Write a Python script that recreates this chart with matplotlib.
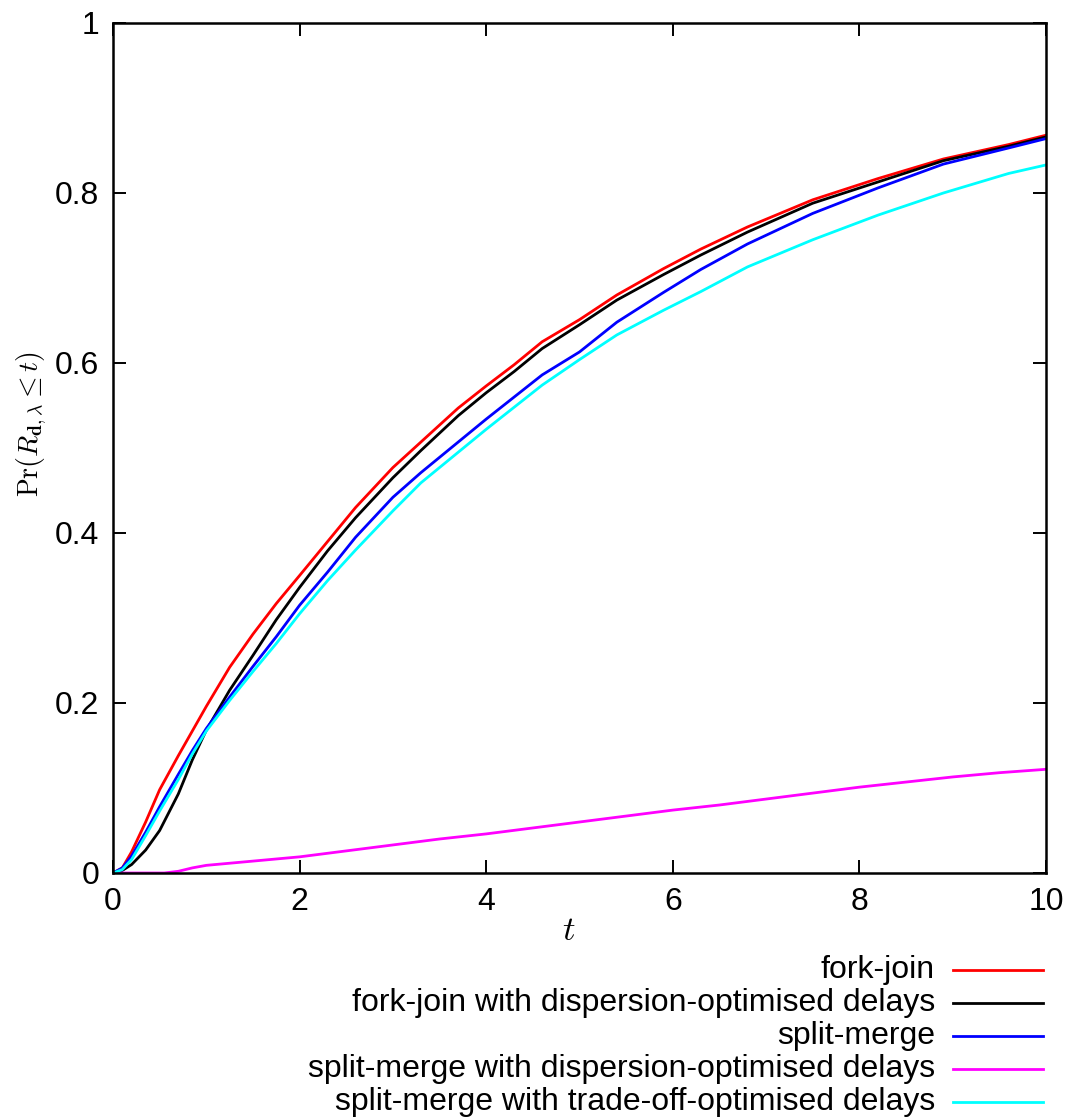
import matplotlib
matplotlib.use("Agg")
import matplotlib.pyplot as plt
from matplotlib.lines import Line2D

plt.rcParams["font.family"] = ["Liberation Sans", "DejaVu Sans"]
plt.rcParams["mathtext.fontset"] = "cm"

# Response-time CDFs, Pr(R <= t)
t = [0, 0.1, 0.2, 0.35, 0.5, 0.7, 0.85, 1.0, 1.25, 1.5, 1.75, 2.0, 2.3, 2.6,
     3.0, 3.3, 3.7, 4.0, 4.3, 4.6, 5.0, 5.4, 5.9, 6.3, 6.8, 7.5, 8.2, 8.9, 9.6, 10]

fork_join = [0, 0.006, 0.025, 0.060, 0.098, 0.138, 0.167, 0.196, 0.242, 0.281,
             0.317, 0.350, 0.390, 0.430, 0.477, 0.507, 0.547, 0.573, 0.598, 0.625,
             0.651, 0.680, 0.711, 0.734, 0.760, 0.792, 0.817, 0.840, 0.857, 0.868]

fork_join_disp = [0, 0.003, 0.010, 0.027, 0.050, 0.093, 0.133, 0.168, 0.215, 0.256,
                  0.298, 0.336, 0.379, 0.418, 0.465, 0.497, 0.538, 0.565, 0.590, 0.617,
                  0.645, 0.674, 0.704, 0.727, 0.754, 0.788, 0.813, 0.838, 0.855, 0.866]

split_merge = [0, 0.006, 0.020, 0.048, 0.078, 0.116, 0.144, 0.170, 0.207, 0.243,
               0.278, 0.315, 0.354, 0.395, 0.442, 0.471, 0.507, 0.534, 0.560, 0.586,
               0.613, 0.648, 0.683, 0.710, 0.740, 0.776, 0.806, 0.834, 0.853, 0.864]

split_merge_tradeoff = [0, 0.004, 0.016, 0.044, 0.073, 0.110, 0.140, 0.167, 0.203, 0.237,
                        0.270, 0.305, 0.344, 0.380, 0.426, 0.459, 0.495, 0.522, 0.548, 0.574,
                        0.604, 0.633, 0.662, 0.684, 0.713, 0.745, 0.774, 0.800, 0.823, 0.833]

t_sm_disp = [0, 0.55, 0.7, 0.85, 1.0, 1.5, 2.0, 2.5, 3.0, 3.5, 4.0, 4.5, 5.0, 5.5,
             6.0, 6.5, 7.0, 7.5, 8.0, 8.5, 9.0, 9.5, 10]
split_merge_disp = [0, 0, 0.002, 0.006, 0.009, 0.014, 0.019, 0.026, 0.033, 0.040,
                    0.046, 0.053, 0.060, 0.067, 0.074, 0.080, 0.087, 0.094, 0.101,
                    0.107, 0.113, 0.118, 0.122]

labels = ["fork-join",
          "fork-join with dispersion-optimised delays",
          "split-merge",
          "split-merge with dispersion-optimised delays",
          "split-merge with trade-off-optimised delays"]
colors = ["#ff0000", "#000000", "#0000ff", "#ff00ff", "#00ffff"]

xticks = [0, 2, 4, 6, 8, 10]
yticks = [0, 0.2, 0.4, 0.6, 0.8, 1]
yticklabels = ["0", "0.2", "0.4", "0.6", "0.8", "1"]

W, H = 1073, 1117
fig = plt.figure(figsize=(W / 100, H / 100), dpi=100)
ax = fig.add_axes([113 / W, 1 - 873 / H, (1046 - 113) / W, (873 - 23) / H])

series = [(t, fork_join), (t, fork_join_disp), (t, split_merge),
          (t_sm_disp, split_merge_disp), (t, split_merge_tradeoff)]
lw = 2.0
for (xs, ys), c in zip(series, colors):
    ax.plot(xs, ys, color=c, lw=lw, solid_joinstyle="round")

ax.set_xlim(0, 10)
ax.set_ylim(0, 1)
ax.set_xticks(xticks)
ax.set_xticklabels([str(v) for v in xticks])
ax.set_yticks(yticks)
ax.set_yticklabels(yticklabels)
ax.tick_params(direction="in", length=9.5, width=1.4, top=True, right=True,
               labelsize=23, pad=10)
for s in ax.spines.values():
    s.set_linewidth(1.8)

ax.set_xlabel(r"$t$", fontsize=25, va="center")
ax.xaxis.set_label_coords(0.488, -0.068)
ax.set_ylabel(r"$\mathrm{Pr}(R_{\mathbf{d},\lambda} \leq t)$", fontsize=20,
              ha="center", va="center")
ax.yaxis.set_label_coords(-0.087, 0.528)

# Key below the plot: right-aligned text with a short line sample
row_y = [970, 1003, 1036, 1069, 1102]
for lab, c, yy in zip(labels, colors, row_y):
    yf = 1 - yy / H
    fig.text(935 / W, yf, lab, ha="right", va="center", fontsize=23)
    fig.add_artist(Line2D([953 / W, 1043 / W], [yf, yf], color=c, lw=lw,
                          transform=fig.transFigure))

fig.savefig("out.png", dpi=100)
